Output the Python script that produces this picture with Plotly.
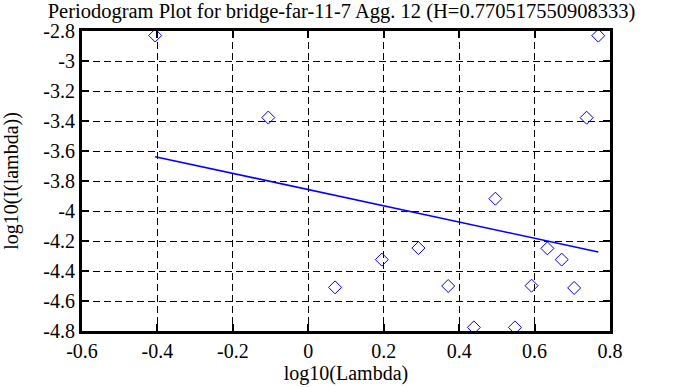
import plotly.graph_objects as go

log_lambda = [-0.406, -0.106, 0.071, 0.195, 0.292, 0.371, 0.439, 0.496,
              0.548, 0.592, 0.634, 0.672, 0.705, 0.738, 0.769]
log_I = [-2.830, -3.377, -4.509, -4.324, -4.247, -4.500, -4.776, -3.918,
         -4.776, -4.498, -4.249, -4.324, -4.513, -3.378, -2.831]
fit_x = [-0.406, 0.769]
fit_y = [-3.638, -4.273]

x_ticks = [-0.6, -0.4, -0.2, 0, 0.2, 0.4, 0.6, 0.8]
x_labels = ["-0.6", "-0.4", "-0.2", "0", "0.2", "0.4", "0.6", "0.8"]
y_ticks = [-2.8, -3.0, -3.2, -3.4, -3.6, -3.8, -4.0, -4.2, -4.4, -4.6, -4.8]
y_labels = ["-2.8", "-3", "-3.2", "-3.4", "-3.6", "-3.8", "-4", "-4.2", "-4.4", "-4.6", "-4.8"]

title = "Periodogram Plot for bridge-far-11-7 Agg. 12 (H=0.770517550908333)"
FONT = "Liberation Serif"
FS = 20

fig = go.Figure()
fig.add_trace(go.Scatter(x=log_lambda, y=log_I, mode="markers",
                         marker=dict(symbol="diamond-open", size=10, color="#0000ff",
                                     line=dict(width=1, color="#0000ff")),
                         showlegend=False, cliponaxis=False))
fig.add_trace(go.Scatter(x=fit_x, y=fit_y, mode="lines",
                         line=dict(color="#0000ff", width=1.6), showlegend=False))

axis_common = dict(showline=True, linecolor="black", linewidth=3, mirror="ticks",
                   ticks="inside", ticklen=7, tickwidth=2, tickcolor="black",
                   showgrid=True, gridcolor="black", gridwidth=1, griddash="7px,4px",
                   zeroline=False, automargin=False,
                   tickfont=dict(family=FONT, size=FS, color="black"))

fig.update_xaxes(range=[-0.6, 0.8], tickvals=x_ticks, ticktext=x_labels,
                 title=dict(text="log10(Lambda)", font=dict(family=FONT, size=FS, color="black"),
                            standoff=3),
                 **axis_common)
fig.update_yaxes(range=[-4.8, -2.8], tickvals=y_ticks, ticktext=y_labels,
                 ticklabelstandoff=0,
                 title=dict(text="log10(I(lambda))", font=dict(family=FONT, size=FS, color="black"),
                            standoff=20),
                 **axis_common)

fig.update_layout(width=683, height=387, autosize=False,
                  margin=dict(l=82, r=73, t=31, b=56, autoexpand=False),
                  paper_bgcolor="white", plot_bgcolor="white",
                  title=dict(text=title, x=0.5, xref="container", xanchor="center",
                             y=0.972, yref="container", yanchor="middle", automargin=False,
                             font=dict(family=FONT, size=20.5, color="black")))

fig.write_html("out.html", config={"displayModeBar": False},
               post_script="document.body.style.margin='0';document.body.style.overflow='hidden';")
